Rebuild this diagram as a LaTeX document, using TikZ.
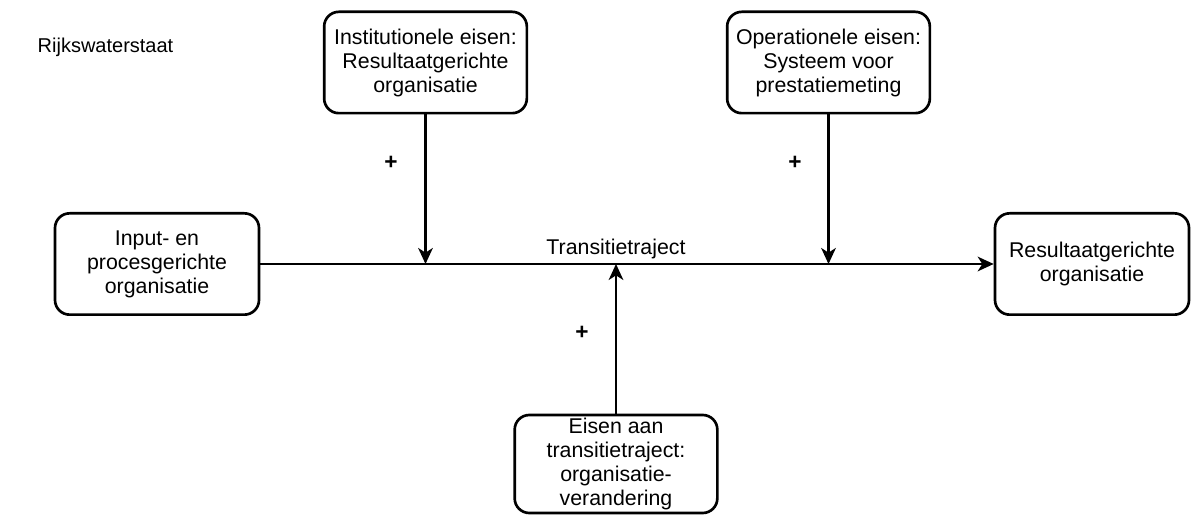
\documentclass[tikz,border=0pt]{standalone}
\usepackage{fontspec}
\setmainfont{Liberation Sans}
\usetikzlibrary{arrows.meta}

\tikzset{
  blok/.style={draw, line width=2pt, rounded corners=11pt, align=center,
    inner sep=0pt, minimum width=152pt, minimum height=76pt,
    font=\fontsize{16}{18}\selectfont},
  pijl/.style={line width=1.7pt, -{Stealth[length=12pt, width=11pt, inset=3.5pt]}},
  plus/.style={font=\fontsize{17}{18}\selectfont\bfseries}
}

\begin{document}
\begin{tikzpicture}[x=0.75pt, y=-0.75pt]

  \useasboundingbox (0,0) rectangle (1192,516);

  % --- titel ---
  \node[anchor=west, font=\fontsize{15}{18}\selectfont] (titel) at (33,47) {Rijkswaterstaat};

  % --- eisen boven ---
  \node[blok] (inst) at (425.5,62.5) {Institutionele eisen:\\Resultaatgerichte\\organisatie};
  \node[blok] (oper) at (828.5,62.5) {Operationele eisen:\\Systeem voor\\prestatiemeting};

  % --- begin- en eindtoestand ---
  \node[blok, minimum width=153pt] (input) at (157,264) {Input- en\\procesgerichte\\organisatie};
  \node[blok, minimum width=145.5pt] (result) at (1092,264) {Resultaatgerichte\\organisatie};

  % --- eisen onder ---
  \node[blok, minimum height=73.5pt] (trans) at (616,464) {Eisen aan\\transitietraject:\\organisatie-\\verandering};

  % --- transitietraject ---
  \draw[pijl] (input) -- (result);
  \node[font=\fontsize{16}{18}\selectfont] (traject) at (616,249) {Transitietraject};

  \coordinate (j1) at (inst.south |- input.east);
  \coordinate (j2) at (oper.south |- input.east);
  \coordinate (j3) at (trans.north |- input.east);

  \draw[pijl] (inst) -- (j1);
  \draw[pijl] (oper) -- (j2);
  \draw[pijl] (trans) -- (j3);

  % --- plustekens ---
  \node[plus] (p1) at (391,163) {+};
  \node[plus] (p2) at (795,163) {+};
  \node[plus] (p3) at (582,333) {+};

\end{tikzpicture}
\end{document}
